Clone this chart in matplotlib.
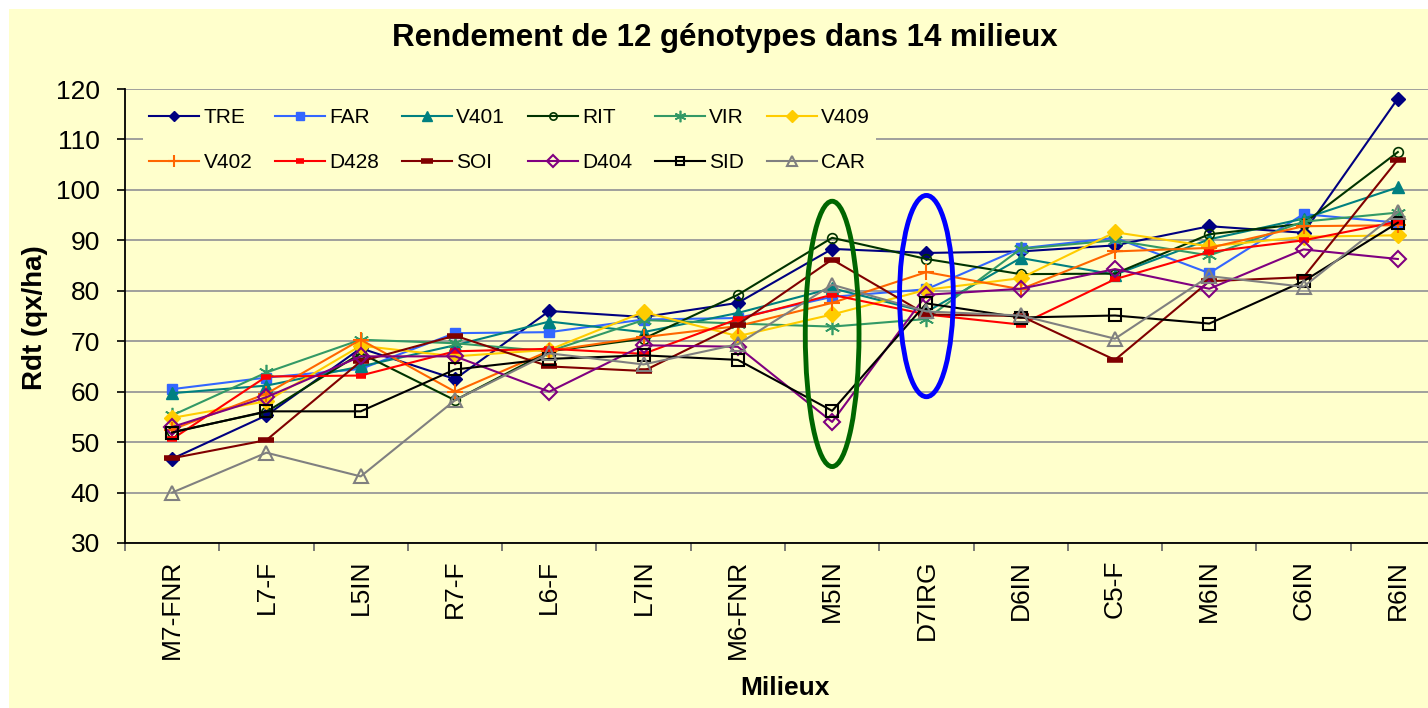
import matplotlib
matplotlib.use("Agg")
import matplotlib.pyplot as plt
from matplotlib.patches import Ellipse, Rectangle
import numpy as np

plt.rcParams['font.family'] = ['Liberation Sans', 'DejaVu Sans']

milieux = ["M7-FNR", "L7-F", "L5IN", "R7-F", "L6-F", "L7IN", "M6-FNR",
           "M5IN", "D7IRG", "D6IN", "C5-F", "M6IN", "C6IN", "R6IN"]

TRE  = [46.7, 55.3, 68.6, 62.5, 76.0, 74.8, 77.6, 88.3, 87.5, 87.8, 89.0, 92.8, 91.5, 118.1]
FAR  = [60.5, 62.8, 64.5, 71.6, 71.8, 74.3, 74.6, 78.8, 80.3, 88.4, 90.5, 83.5, 95.2, 93.5]
V401 = [59.7, 61.2, 65.0, 69.2, 73.9, 71.8, 75.6, 80.5, 75.8, 86.5, 83.2, 90.2, 94.3, 100.5]
RIT  = [52.0, 56.0, 67.6, 58.3, 68.0, 70.5, 79.2, 90.5, 86.3, 83.3, 83.4, 91.2, 93.3, 107.5]
VIR  = [55.3, 63.8, 70.3, 69.6, 68.0, 74.2, 73.5, 72.9, 74.4, 88.3, 90.0, 87.0, 93.7, 95.5]
V409 = [54.8, 58.1, 69.1, 67.0, 68.3, 75.8, 71.0, 75.3, 80.2, 82.5, 91.6, 88.8, 90.7, 91.0]
V402 = [52.5, 59.6, 70.3, 60.0, 68.1, 70.8, 73.0, 77.6, 83.7, 80.3, 87.8, 88.5, 92.8, 93.0]
D428 = [50.6, 63.0, 63.2, 68.0, 68.5, 67.5, 74.4, 79.2, 75.3, 73.3, 82.3, 87.7, 90.0, 93.7]
SOI  = [46.8, 50.4, 66.0, 71.1, 65.0, 64.1, 73.3, 86.2, 75.3, 75.0, 66.3, 81.9, 82.7, 106.0]
D404 = [53.0, 58.9, 67.0, 67.0, 60.0, 69.2, 68.9, 54.0, 79.2, 80.4, 84.3, 80.4, 88.2, 86.3]
SID  = [51.9, 56.1, 56.1, 64.4, 66.5, 67.2, 66.3, 56.2, 77.5, 74.7, 75.1, 73.5, 81.9, 93.5]
CAR  = [40.0, 47.9, 43.2, 58.3, 67.6, 65.4, 69.4, 81.2, 75.9, 75.1, 70.5, 82.9, 80.8, 95.6]

bg = '#FFFFCC'
W, H = 1428, 708

fig = plt.figure(figsize=(W / 100, H / 100), dpi=100, facecolor='white')
fig.patches.append(Rectangle((9 / W, 0), 1, 1 - 9 / H, transform=fig.transFigure,
                             facecolor=bg, edgecolor='none', zorder=-10))

ax = fig.add_axes([125 / W, 165 / H, (1445 - 125) / W, (543 - 89) / H])
ax.set_facecolor(bg)

x = np.arange(len(milieux))

# (name, values, color, marker, size, filled, mew)
series = [
    ("TRE", TRE, '#000080', 'D', 7, True, 1.0),
    ("FAR", FAR, '#3366FF', 's', 7, True, 1.0),
    ("V401", V401, '#008080', '^', 9, True, 1.0),
    ("RIT", RIT, '#003300', 'o', 7, False, 1.2),
    ("VIR", VIR, '#339966', (6, 2, 0), 11, True, 1.2),
    ("V409", V409, '#FFCC00', 'D', 8, True, 1.0),
    ("V402", V402, '#FF6600', '+', 12, True, 1.5),
    ("D428", D428, '#FF0000', '_', 7, True, 4.0),
    ("SOI", SOI, '#800000', '_', 11, True, 4.0),
    ("D404", D404, '#800080', 'D', 8, False, 1.5),
    ("SID", SID, '#000000', 's', 8, False, 1.5),
    ("CAR", CAR, '#808080', '^', 10, False, 1.5),
]

lines = []
for name, vals, col, mk, ms, filled, mew in series:
    ln, = ax.plot(x, vals, color=col, lw=1.5, marker=mk, ms=ms, mew=mew,
                  mec=col, mfc=col if filled else 'none', label=name, zorder=3)
    lines.append(ln)

# ellipses around M5IN and D7IRG
ax.add_patch(Ellipse((7, 71.45), 0.57, 52.6, fill=False, edgecolor='#006600', lw=3.5, zorder=4))
ax.add_patch(Ellipse((8, 78.95), 0.57, 39.9, fill=False, edgecolor='#0000FF', lw=3.5, zorder=4))

ax.set_xlim(-0.5, len(milieux) - 0.5)
ax.set_ylim(30, 120)
ax.set_yticks(np.arange(30, 121, 10))
ax.yaxis.grid(True, color='#999999', lw=1.3)
ax.set_axisbelow(True)
ax.set_xticks(x)
ax.set_xticklabels(milieux, rotation=90, fontsize=19)
ax.set_xticks(np.arange(-0.5, len(milieux), 1), minor=True)
ax.tick_params(axis='x', which='major', length=0, pad=12)
ax.tick_params(axis='x', which='minor', length=6, width=1.2, color='#666666', direction='out')
ax.tick_params(axis='y', labelsize=19, length=6, width=1.2, direction='out', pad=12)
for s in ['top', 'right']:
    ax.spines[s].set_visible(False)
ax.spines['left'].set_linewidth(1.3)
ax.spines['bottom'].set_linewidth(1.3)

# legend reads row by row, matplotlib fills column by column
order = [0, 6, 1, 7, 2, 8, 3, 9, 4, 10, 5, 11]
leg = ax.legend([lines[i] for i in order], [series[i][0] for i in order],
                ncol=6, loc='upper left', bbox_to_anchor=(143 / W, 1 - 102 / H),
                bbox_transform=fig.transFigure, fontsize=15, frameon=True,
                facecolor=bg, edgecolor='none', framealpha=1, fancybox=False,
                handlelength=2.4, handletextpad=0.2, columnspacing=1.1,
                labelspacing=1.25, borderpad=0.3, borderaxespad=0)
for h in leg.legend_handles:
    h.set_markersize(h.get_markersize() * 0.75)

fig.text(725 / W, 1 - 38 / H, "Rendement de 12 génotypes dans 14 milieux",
         ha='center', va='center', fontsize=22.5, fontweight='bold')
fig.text(35 / W, 1 - 318 / H, "Rdt (qx/ha)", ha='center', va='center',
         rotation=90, fontsize=20, fontweight='bold')
fig.text(785 / W, 1 - 688 / H, "Milieux", ha='center', va='center',
         fontsize=19, fontweight='bold')

fig.savefig("out.png", dpi=100, facecolor=fig.get_facecolor())
